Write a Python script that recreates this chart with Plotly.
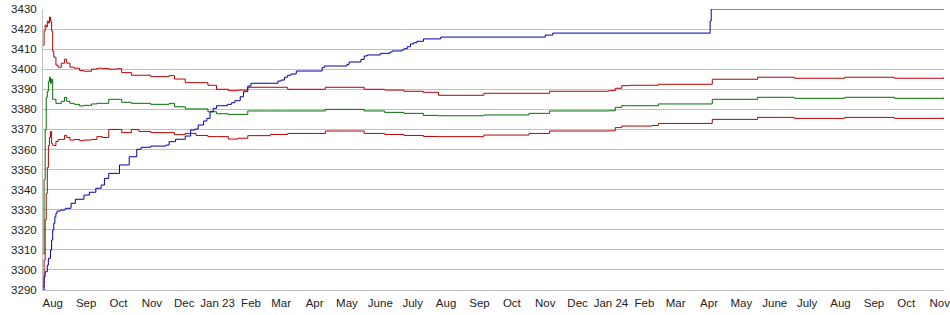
import plotly.graph_objects as go

# ---- band series (upper, middle, lower) ----
band_dates = [
    "2022-07-23", "2022-07-24", "2022-07-25", "2022-07-26", "2022-07-27", "2022-07-28",
    "2022-07-29", "2022-07-30", "2022-07-31", "2022-08-01", "2022-08-02", "2022-08-04",
    "2022-08-06", "2022-08-09", "2022-08-12", "2022-08-14", "2022-08-17", "2022-08-21",
    "2022-08-26", "2022-08-30", "2022-09-06", "2022-09-11", "2022-09-16", "2022-09-22",
    "2022-09-30", "2022-10-04", "2022-10-13", "2022-10-20", "2022-10-31", "2022-11-17",
    "2022-11-22", "2022-12-02", "2022-12-12", "2022-12-23", "2022-12-31", "2023-01-11",
    "2023-01-20", "2023-01-29", "2023-02-19", "2023-03-07", "2023-04-04", "2023-04-11",
    "2023-05-02", "2023-05-17", "2023-06-05", "2023-06-23", "2023-07-11", "2023-07-25",
    "2023-09-05", "2023-10-17", "2023-11-05", "2023-12-06", "2023-12-30", "2024-01-05",
    "2024-01-11", "2024-01-19", "2024-02-08", "2024-02-14", "2024-03-31", "2024-04-04",
    "2024-04-25", "2024-05-16", "2024-06-19", "2024-08-05", "2024-09-20", "2024-11-05",
]
upper_vals = [
    3412, 3419, 3422, 3421, 3424, 3423,
    3426, 3424, 3419, 3409, 3406, 3402,
    3401, 3403, 3405, 3403, 3401, 3400.5,
    3399.3, 3399, 3400, 3400.5, 3400.3, 3400,
    3400.3, 3398.3, 3397, 3397, 3396.3, 3396.8,
    3395.1, 3393.3, 3393.3, 3392, 3390, 3389.3,
    3389.6, 3391, 3391, 3390, 3390, 3391,
    3391, 3390, 3389.6, 3389, 3388.5, 3387,
    3388, 3388, 3389, 3389, 3389.3, 3390.5,
    3391.8, 3392, 3392, 3392.5, 3392.5, 3395,
    3395, 3396, 3395.5, 3396, 3395.5, 3396,
]
middle_vals = [
    3308, 3345, 3370, 3386, 3389, 3394,
    3396, 3393, 3395, 3385, 3385, 3383,
    3383, 3384, 3386, 3384, 3383, 3382.5,
    3381.7, 3382, 3382.7, 3383, 3383, 3385,
    3385, 3383.5, 3383, 3383, 3382.5, 3383,
    3381.3, 3380.2, 3380.2, 3378.8, 3377.8, 3377.5,
    3377.5, 3379.2, 3379.2, 3379.2, 3379.2, 3380,
    3380, 3379.2, 3378.5, 3378, 3377, 3376.8,
    3377.2, 3378, 3379.2, 3379.2, 3379.3, 3381,
    3381.8, 3381.8, 3381.8, 3382.7, 3382.7, 3385,
    3385, 3386, 3385.5, 3386, 3385.5, 3386,
]
lower_vals = [
    3291.5, 3305, 3325, 3338, 3351, 3362,
    3366, 3369, 3363, 3362, 3362, 3364,
    3365, 3365, 3367, 3366, 3364.7, 3365,
    3364.4, 3364.7, 3365, 3366.4, 3366, 3370,
    3370, 3368.4, 3370, 3369, 3368.4, 3368.4,
    3367.4, 3368, 3367, 3366.4, 3366.4, 3365.2,
    3365.6, 3366.9, 3367.5, 3368, 3368, 3369.2,
    3369.2, 3368, 3367.5, 3367, 3366.5, 3366.4,
    3367.2, 3368, 3369.2, 3369.2, 3369.3, 3370.9,
    3371.7, 3371.7, 3372, 3373, 3373, 3375,
    3375, 3376, 3375.5, 3376, 3375.5, 3376,
]

# ---- cumulative (blue) step series ----
cum_dates = [
    "2022-07-23", "2022-07-24", "2022-07-25", "2022-07-27", "2022-07-28", "2022-07-30",
    "2022-07-31", "2022-08-01", "2022-08-02", "2022-08-03", "2022-08-04", "2022-08-05",
    "2022-08-08", "2022-08-12", "2022-08-13", "2022-08-18", "2022-08-22", "2022-08-30",
    "2022-09-04", "2022-09-10", "2022-09-15", "2022-09-18", "2022-09-22", "2022-10-02",
    "2022-10-11", "2022-10-18", "2022-10-22", "2022-10-31", "2022-11-14", "2022-11-17",
    "2022-11-23", "2022-12-02", "2022-12-07", "2022-12-11", "2022-12-14", "2022-12-19",
    "2022-12-22", "2022-12-25", "2022-12-28", "2022-12-31", "2023-01-10", "2023-01-14",
    "2023-01-17", "2023-01-22", "2023-01-25", "2023-01-29", "2023-02-01", "2023-02-26",
    "2023-03-01", "2023-03-04", "2023-03-07", "2023-03-10", "2023-03-15", "2023-04-08",
    "2023-04-10", "2023-05-01", "2023-05-03", "2023-05-14", "2023-05-17", "2023-05-20",
    "2023-06-01", "2023-06-10", "2023-06-12", "2023-06-21", "2023-06-23", "2023-06-26",
    "2023-06-29", "2023-07-02", "2023-07-05", "2023-07-11", "2023-07-27", "2023-11-01",
    "2023-11-08", "2024-04-02", "2024-04-03", "2024-11-05",
]
cum_vals = [
    3290, 3296.6, 3299.1, 3302.4, 3305.8, 3309.9,
    3314.9, 3319.9, 3323.2, 3326.5, 3328.2, 3329.3,
    3329.8, 3330.2, 3330.7, 3333.2, 3335.2, 3337.3,
    3338.7, 3340.7, 3342.3, 3345.6, 3348.1, 3352.3,
    3356.4, 3360.1, 3361.1, 3361.7, 3362.2, 3363.9,
    3365.1, 3366.7, 3369.7, 3370.2, 3372.2, 3374.2,
    3375.5, 3378.8, 3380.5, 3381.8, 3382.5, 3383.3,
    3384.3, 3386.3, 3388.8, 3391.6, 3393, 3394.1,
    3394.6, 3396, 3397, 3397.6, 3399.1, 3400.8,
    3401.6, 3402.4, 3403.6, 3404.9, 3406.6, 3407.1,
    3407.9, 3408.6, 3409.1, 3409.6, 3410.2, 3411.2,
    3412.6, 3413.2, 3413.9, 3415.1, 3416, 3417,
    3418, 3424, 3430, 3430,
]

# ---- axis ticks ----
tick_dates = [
    "2022-08-01", "2022-09-01", "2022-10-01", "2022-11-01", "2022-12-01", "2023-01-01",
    "2023-02-01", "2023-03-01", "2023-04-01", "2023-05-01", "2023-06-01", "2023-07-01",
    "2023-08-01", "2023-09-01", "2023-10-01", "2023-11-01", "2023-12-01", "2024-01-01",
    "2024-02-01", "2024-03-01", "2024-04-01", "2024-05-01", "2024-06-01", "2024-07-01",
    "2024-08-01", "2024-09-01", "2024-10-01", "2024-11-01",
]
tick_labels = [
    "Aug", "Sep", "Oct", "Nov", "Dec", "Jan 23",
    "Feb", "Mar", "Apr", "May", "June", "July",
    "Aug", "Sep", "Oct", "Nov", "Dec", "Jan 24",
    "Feb", "Mar", "Apr", "May", "June", "July",
    "Aug", "Sep", "Oct", "Nov",
]
y_ticks = list(range(3290, 3431, 10))

RED = "#b80000"
GREEN = "#007000"
BLUE = "#0000a8"

fig = go.Figure()
fig.add_trace(go.Scatter(x=band_dates, y=upper_vals, mode="lines",
                         line=dict(color=RED, width=1, shape="hv"), hoverinfo="skip"))
fig.add_trace(go.Scatter(x=band_dates, y=middle_vals, mode="lines",
                         line=dict(color=GREEN, width=1, shape="hv"), hoverinfo="skip"))
fig.add_trace(go.Scatter(x=band_dates, y=lower_vals, mode="lines",
                         line=dict(color=RED, width=1, shape="hv"), hoverinfo="skip"))
fig.add_trace(go.Scatter(x=cum_dates, y=cum_vals, mode="lines",
                         line=dict(color=BLUE, width=1, shape="hv"), hoverinfo="skip"))

fig.update_layout(
    width=950, height=315,
    margin=dict(l=43, r=0, t=9, b=25),
    paper_bgcolor="white", plot_bgcolor="white",
    showlegend=False,
    font=dict(family="Liberation Sans, Arial, sans-serif", size=11.5, color="#222"),
    xaxis=dict(
        type="date",
        range=["2022-07-23", "2024-11-05"],
        tickvals=tick_dates, ticktext=tick_labels,
        showgrid=False, zeroline=False,
        showline=True, linecolor="#c0c0c0", linewidth=1,
        ticks="outside", ticklen=2, tickcolor="rgba(0,0,0,0)", tickangle=0,
        ticklabeloverflow="allow",
    ),
    yaxis=dict(
        range=[3290, 3430],
        tickvals=y_ticks,
        showgrid=True, gridcolor="#c0c0c0", gridwidth=1,
        zeroline=False,
        showline=True, linecolor="#c0c0c0", linewidth=1,
        ticks="outside", ticklen=3, tickcolor="rgba(0,0,0,0)",
    ),
)

fig.write_html("out.html")
